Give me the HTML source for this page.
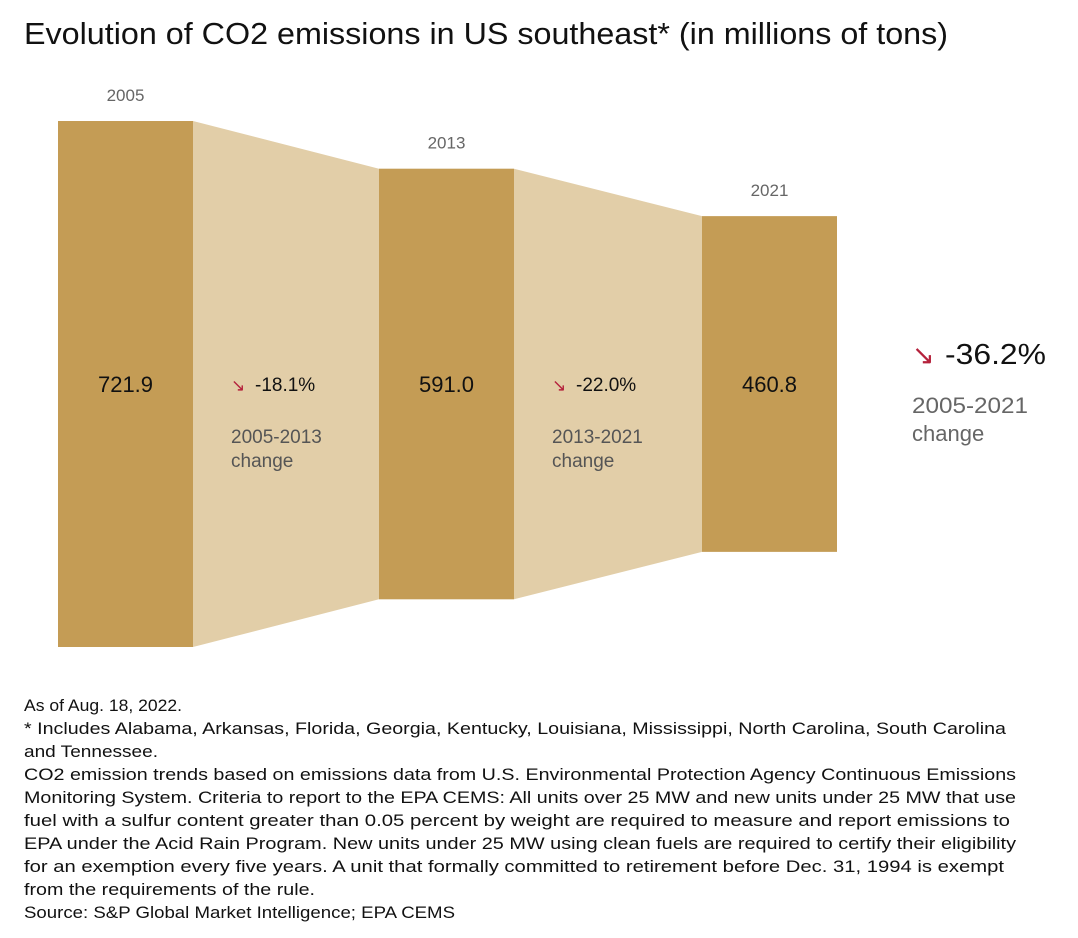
<!DOCTYPE html>
<html><head><meta charset="utf-8"><style>
body{margin:0;background:#fff;width:1078px;height:938px;overflow:hidden;font-family:"Liberation Sans",sans-serif}
svg{position:absolute;left:0;top:0}
</style></head><body>
<svg width="1078" height="938" id="chart" font-family="Liberation Sans, sans-serif">
<text x="24" y="44" font-size="31" fill="#111" textLength="924" lengthAdjust="spacingAndGlyphs">Evolution of CO2 emissions in US southeast* (in millions of tons)</text>
<g id="marks"></g>
<text x="912" y="364" font-size="27" fill="#b5223c">↘</text>
<text x="945" y="364" font-size="29" fill="#111" textLength="101" lengthAdjust="spacingAndGlyphs">-36.2%</text>
<text x="912" y="413" font-size="22" fill="#666" textLength="116" lengthAdjust="spacingAndGlyphs">2005-2021</text>
<text x="912" y="441" font-size="22" fill="#666">change</text>
<g font-size="17" fill="#111" lengthAdjust="spacingAndGlyphs">
<text x="24" y="711" textLength="158" lengthAdjust="spacingAndGlyphs">As of Aug. 18, 2022.</text>
<text x="24" y="734" textLength="982" lengthAdjust="spacingAndGlyphs">* Includes Alabama, Arkansas, Florida, Georgia, Kentucky, Louisiana, Mississippi, North Carolina, South Carolina</text>
<text x="24" y="757" textLength="134" lengthAdjust="spacingAndGlyphs">and Tennessee.</text>
<text x="24" y="780" textLength="992" lengthAdjust="spacingAndGlyphs">CO2 emission trends based on emissions data from U.S. Environmental Protection Agency Continuous Emissions</text>
<text x="24" y="803" textLength="992" lengthAdjust="spacingAndGlyphs">Monitoring System. Criteria to report to the EPA CEMS: All units over 25 MW and new units under 25 MW that use</text>
<text x="24" y="826" textLength="986" lengthAdjust="spacingAndGlyphs">fuel with a sulfur content greater than 0.05 percent by weight are required to measure and report emissions to</text>
<text x="24" y="849" textLength="992" lengthAdjust="spacingAndGlyphs">EPA under the Acid Rain Program. New units under 25 MW using clean fuels are required to certify their eligibility</text>
<text x="24" y="872" textLength="980" lengthAdjust="spacingAndGlyphs">for an exemption every five years. A unit that formally committed to retirement before Dec. 31, 1994 is exempt</text>
<text x="24" y="895" textLength="291" lengthAdjust="spacingAndGlyphs">from the requirements of the rule.</text>
<text x="24" y="918" textLength="431" lengthAdjust="spacingAndGlyphs">Source: S&amp;P Global Market Intelligence; EPA CEMS</text>
</g>
</svg>
<script>
const years=["2005","2013","2021"];
const values=[721.9,591.0,460.8];
const changes=["-18.1%","-22.0%"];
const changeLabels=["2005-2013","2013-2021"];
const NS="http://www.w3.org/2000/svg";
const g=document.getElementById('marks');
const barX=[58,379,702],barW=135,cy=384,k=526/721.9;
function h(v){return v*k;}
function el(t,a,txt){const e=document.createElementNS(NS,t);for(const q in a)e.setAttribute(q,a[q]);if(txt!==undefined)e.textContent=txt;g.appendChild(e);return e;}
for(let i=0;i<values.length-1;i++){
 const x1=barX[i]+barW,x2=barX[i+1],h1=h(values[i])/2,h2=h(values[i+1])/2;
 const p=el('polygon',{points:`${x1},${cy-h1} ${x2},${cy-h2} ${x2},${cy+h2} ${x1},${cy+h1}`,fill:'#e2cea8'});
 
 
 const tx=x1+38;
 const a=el('text',{x:tx,y:391,'font-size':17,fill:'#b5223c'},'↘');
 
 
 const c=el('text',{x:tx+24,y:391,'font-size':19,fill:'#111'},changes[i]);
 
 
 const l1=el('text',{x:tx,y:443,'font-size':19,fill:'#555'},changeLabels[i]);
 
 
 const l2=el('text',{x:tx,y:467,'font-size':19,fill:'#555'},'change');
 
 
}
values.forEach((v,i)=>{
 const hh=h(v);
 const r=el('rect',{x:barX[i],y:cy-hh/2,width:barW,height:hh,fill:'#c49c55'});
 
 
 const t=el('text',{x:barX[i]+barW/2,y:cy-hh/2-20,'font-size':17,fill:'#666','text-anchor':'middle'},years[i]);
 
 
 const vt=el('text',{x:barX[i]+barW/2,y:cy+8,'font-size':22,fill:'#111','text-anchor':'middle'},v.toFixed(1));
 
 
});
</script>
</body></html>
